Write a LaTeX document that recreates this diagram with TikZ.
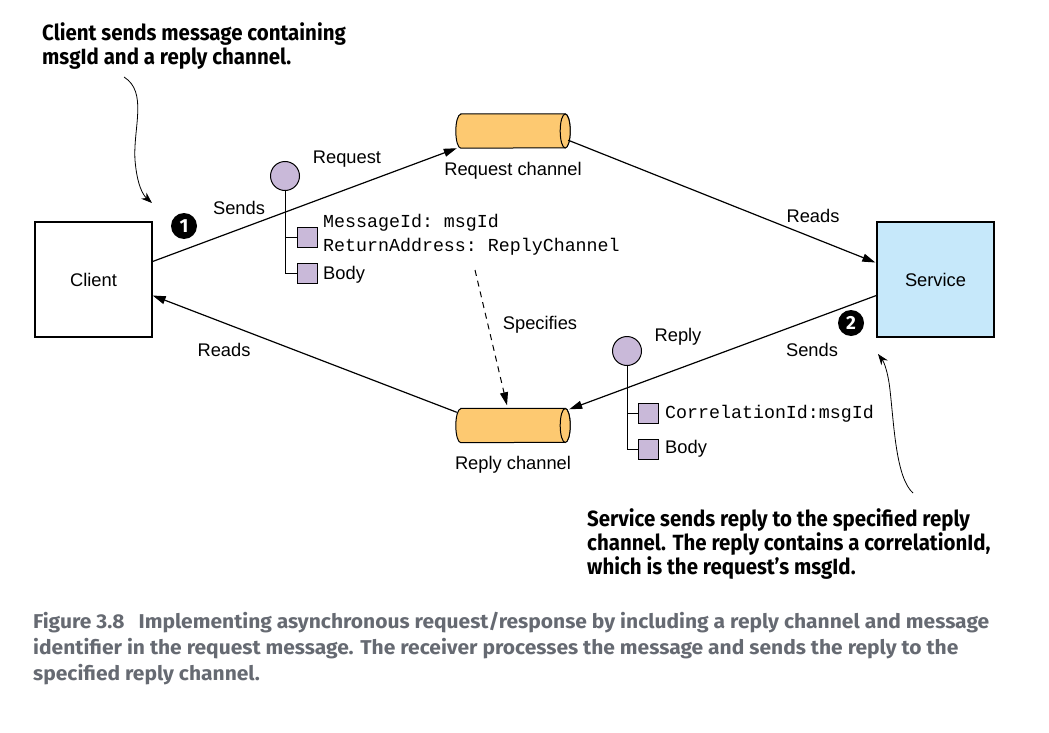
\documentclass[tikz,border=0pt]{standalone}
\usepackage{fontspec}
\setmainfont{Liberation Sans}
\setmonofont{Liberation Mono}
\newfontfamily\annofont{Fira Sans}[FakeStretch=0.93]
\newfontfamily\capfont{Fira Sans}[FakeStretch=1.05]
\newfontfamily\badgefont{Fira Sans}
\usetikzlibrary{arrows.meta,calc}
\definecolor{chanfill}{RGB}{253,201,113}
\definecolor{msgfill}{RGB}{201,185,217}
\definecolor{svcfill}{RGB}{198,232,250}
\definecolor{capgray}{RGB}{102,106,114}
\newcommand\mychan[3]{%
  \node[minimum width=114pt, minimum height=34pt, inner sep=0pt] (#1) at (#2,#3) {};
  \draw[line width=1pt, fill=chanfill] ($(#1.north west)+(5,0)$) -- ($(#1.north east)+(-5,0)$)
     arc[start angle=90,end angle=-90,x radius=5,y radius=17]
     -- ($(#1.south west)+(5,0)$)
     arc[start angle=270,end angle=90,x radius=5,y radius=17] -- cycle;
  \draw[line width=1pt, fill=chanfill] ($(#1.east)+(-5,0)$) ellipse[x radius=5, y radius=17];
}
\tikzset{
  x=1pt, y=1pt,
  lbl/.style={font=\fontsize{18.3}{20}\selectfont, inner sep=0pt},
  code/.style={font=\ttfamily\fontsize{18.3}{20}\selectfont, inner sep=0pt, anchor=west},
  boxnode/.style={draw, line width=1.3pt, minimum width=117pt, minimum height=115pt, font=\fontsize{18.3}{20}\selectfont},
  conn/.style={line width=1.2pt, -{Triangle[length=13pt,width=8pt]}},
  msgcirc/.style={circle, draw, line width=1pt, fill=msgfill, minimum size=29pt, inner sep=0pt},
  msgsq/.style={draw, line width=1pt, fill=msgfill, minimum size=20pt, inner sep=0pt},
  tree/.style={line width=1pt},
  badge/.style={circle, fill=black, minimum size=26pt, inner sep=0pt, text=white, font=\badgefont\bfseries\fontsize{19}{19}\selectfont},
  anno/.style={font=\annofont\bfseries\fontsize{22}{24}\selectfont, align=left, inner sep=0pt},
  curvy/.style={line width=0.8pt, -{Stealth[length=11pt,width=8pt]}},
  caption/.style={font=\capfont\bfseries\fontsize{20}{25.8}\selectfont, text=capgray, align=left, inner sep=0pt}
}
\begin{document}
\begin{tikzpicture}
\useasboundingbox (0,0) rectangle (1049,-733);
% boxes
\node[boxnode] (client) at (93.5,-279.5) {Client};
\node[boxnode, fill=svcfill] (service) at (935.5,-279.5) {Service};
% channels
\mychan{reqch}{513}{-131}
\mychan{repch}{513}{-425.5}
\node[lbl] (reqlbl) at (513,-171) {Request channel};
\node[lbl] (replbl) at (513,-465) {Reply channel};
% connectors
\draw[conn] ($(client.east)+(0,18)$) -- ($(reqch.south west)+(1,0)$);
\draw[conn] ($(reqch.south east)+(-2,8)$) -- ($(service.west)+(-1,17)$);
\draw[conn] ($(service.west)+(0,-16)$) -- ($(repch.north east)+(-1,-1)$);
\draw[conn] ($(repch.north west)+(1,-4)$) -- ($(client.east)+(0,-16)$);
\coordinate (specstart) at (475,-270);
\draw[line width=1pt, dash pattern=on 6pt off 5pt, -{Triangle[length=13pt,width=8pt]}] (specstart) -- ($(repch.north)+(-6,3)$);
% labels
\node[lbl] (sends1) at (239,-208) {Sends};
\node[lbl] (request) at (347,-159) {Request};
\node[lbl] (reads1) at (813,-216) {Reads};
\node[lbl] (sends2) at (812,-350) {Sends};
\node[lbl] (reads2) at (224,-350) {Reads};
\node[lbl] (specifies) at (540,-325) {Specifies};
\node[lbl] (replylbl) at (678,-337) {Reply};
% badges
\node[badge] (b1) at (184,-226) {1};
\node[badge] (b2) at (851,-323) {2};
% request message
\node[msgcirc] (m1) at (285,-176) {};
\node[msgsq] (m1a) at (307,-237) {};
\node[msgsq] (m1b) at (307,-273) {};
\draw[tree] (m1.south) |- (m1a.west);
\draw[tree] (m1.south) |- (m1b.west);
\node[code] (t1) at (323,-223) {MessageId: msgId};
\node[code] (t2) at (323,-247) {ReturnAddress: ReplyChannel};
\node[lbl, anchor=west] (t3) at (323,-275) {Body};
% reply message
\node[msgcirc] (m2) at (627,-351) {};
\node[msgsq] (m2a) at (648,-413) {};
\node[msgsq] (m2b) at (648,-449) {};
\draw[tree] (m2.south) |- (m2a.west);
\draw[tree] (m2.south) |- (m2b.west);
\node[code] (t4) at (665,-414) {CorrelationId:msgId};
\node[lbl, anchor=west] (t5) at (665,-449) {Body};
% annotations
\node[anno, anchor=north west] (anno1) at (42,-22) {Client sends message containing\\msgId and a reply channel.};
\node[anno, anchor=north west] (anno2) at (587,-508) {Service sends reply to the specified reply\\channel. The reply contains a correlationId,\\which is the request’s msgId.};
\coordinate (a1s) at (124,-77);
\coordinate (a1e) at (152,-203);
\draw[curvy] (a1s) .. controls (148,-92) and (133,-128) .. (135,-160) .. controls (137,-185) and (143,-195) .. (a1e);
\coordinate (a2s) at (913,-493);
\coordinate (a2e) at (878,-354);
\draw[curvy] (a2s) .. controls (896,-478) and (894,-425) .. (890,-390) .. controls (888,-372) and (884,-362) .. (a2e);
% caption
\node[caption, anchor=north west] (cap) at (33,-612) {Figure 3.8\hspace{14pt}Implementing asynchronous request/response by including a reply channel and message\\identifier in the request message. The receiver processes the message and sends the reply to the\\specified reply channel.};
\end{tikzpicture}
\end{document}
